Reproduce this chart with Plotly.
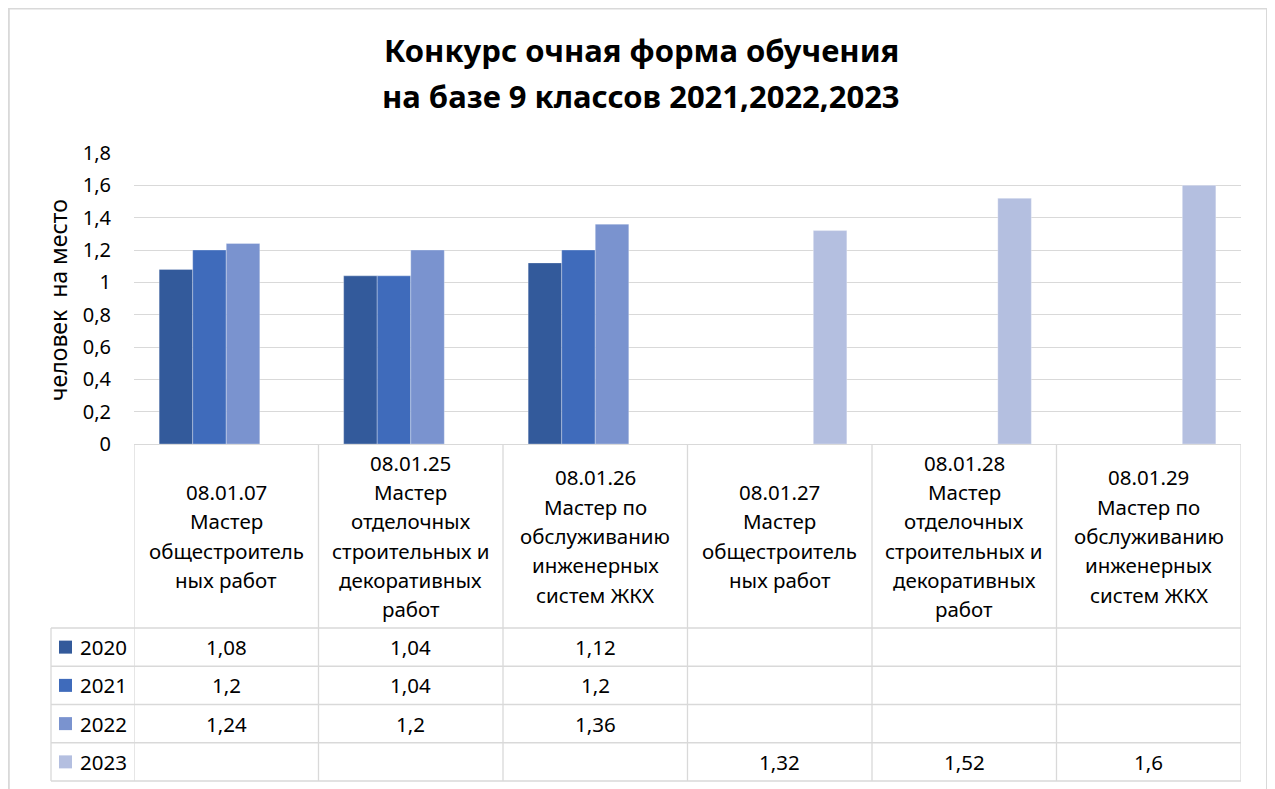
import plotly.graph_objects as go

# ---------------- data ----------------
codes = ["08.01.07", "08.01.25", "08.01.26", "08.01.27", "08.01.28", "08.01.29"]
label_lines = [
    ["08.01.07", "Мастер", "общестроитель", "ных работ"],
    ["08.01.25", "Мастер", "отделочных", "строительных и", "декоративных", "работ"],
    ["08.01.26", "Мастер по", "обслуживанию", "инженерных", "систем ЖКХ"],
    ["08.01.27", "Мастер", "общестроитель", "ных работ"],
    ["08.01.28", "Мастер", "отделочных", "строительных и", "декоративных", "работ"],
    ["08.01.29", "Мастер по", "обслуживанию", "инженерных", "систем ЖКХ"],
]
years = ["2020", "2021", "2022", "2023"]
v2020 = [1.08, 1.04, 1.12, None, None, None]
v2021 = [1.2, 1.04, 1.2, None, None, None]
v2022 = [1.24, 1.2, 1.36, None, None, None]
v2023 = [None, None, None, 1.32, 1.52, 1.6]
series = [v2020, v2021, v2022, v2023]
colors = ["#335a9b", "#3f6bbb", "#7a93cf", "#b4bfe0"]
title_lines = ["Конкурс очная форма обучения", "на базе 9 классов 2021,2022,2023"]
y_title = "человек  на место"

# ---------------- geometry (target picture pixels) ----------------
OFFX = 8                     # browser body margin (x)
SY, CY = 0.98, 10.8          # observed vertical mapping picture = SY*fig + CY


def figy(p):
    return (p - CY) / SY


W = 1275 - 2 * OFFX
H = 798
PL, PR, PT, PB = 134, 1241, 153, 781
ZERO_Y = 444
HDR_BOTTOM = 628
ROW_H = (PB - HDR_BOTTOM) / 4
LEG_L = 51
LINE_H = 29.3
FONT = "Noto Sans"
GRID = "#d9d9d9"
TXT = "#000000"


def fx(px):
    return (px - PL) / (PR - PL)


def fy(py):
    return (PB - py) / (PB - PT)


fig = go.Figure()
for name, vals, col in zip(years, series, colors):
    fig.add_trace(go.Bar(
        x=codes, y=vals, name=name,
        marker=dict(color=col, line=dict(color="rgba(255,255,255,0.5)", width=0.6)),
        showlegend=False,
    ))

shapes = []
annotations = []

# outer chart border
shapes.append(dict(type="rect", xref="paper", yref="paper",
                   x0=fx(OFFX + 0.8), x1=fx(1267), y0=fy(840), y1=fy(8.5),
                   line=dict(color=GRID, width=2), layer="below"))

# table: vertical lines between categories
for i in range(len(codes) + 1):
    shapes.append(dict(type="line", xref="x", yref="paper",
                       x0=i - 0.5, x1=i - 0.5, y0=fy(ZERO_Y), y1=fy(PB),
                       line=dict(color=GRID, width=1.3)))
# legend column left border
shapes.append(dict(type="line", xref="paper", yref="paper",
                   x0=fx(LEG_L), x1=fx(LEG_L), y0=fy(HDR_BOTTOM), y1=fy(PB),
                   line=dict(color=GRID, width=1.3)))
# horizontal row lines
for r in range(len(years) + 1):
    yy = HDR_BOTTOM + r * ROW_H
    shapes.append(dict(type="line", xref="paper", yref="paper",
                       x0=fx(LEG_L), x1=1, y0=fy(yy), y1=fy(yy),
                       line=dict(color=GRID, width=1.3)))

# category labels
hdr_mid = (ZERO_Y + HDR_BOTTOM) / 2
for code, lines in zip(codes, label_lines):
    n = len(lines)
    for k, txt in enumerate(lines):
        yy = hdr_mid + (k - (n - 1) / 2) * LINE_H
        annotations.append(dict(x=code, xref="x", y=fy(yy), yref="paper",
                                text=txt, showarrow=False, xanchor="center",
                                yanchor="middle", font=dict(size=20.5, family=FONT, color=TXT)))

# table rows
for r, (name, vals, col) in enumerate(zip(years, series, colors)):
    yc = HDR_BOTTOM + (r + 0.5) * ROW_H
    shapes.append(dict(type="rect", xref="paper", yref="paper",
                       x0=fx(59), x1=fx(72), y0=fy(yc + 6.5), y1=fy(yc - 6.5),
                       fillcolor=col, line=dict(width=0)))
    annotations.append(dict(x=fx(78), xref="paper", y=fy(yc), yref="paper",
                            text=name, showarrow=False, xanchor="left", yanchor="middle",
                            font=dict(size=20.5, family=FONT, color=TXT)))
    for code, v in zip(codes, vals):
        if v is None:
            continue
        annotations.append(dict(x=code, xref="x", y=fy(yc), yref="paper",
                                text=("%g" % v).replace(".", ","), showarrow=False,
                                xanchor="center", yanchor="middle",
                                font=dict(size=20.5, family=FONT, color=TXT)))

# y-axis title
annotations.append(dict(x=fx(58), xref="paper", y=fy(300), yref="paper",
                        text=y_title, textangle=-90, showarrow=False,
                        xanchor="center", yanchor="middle",
                        font=dict(size=23, family=FONT, color=TXT)))

# title
for txt, yy in zip(title_lines, [50, 96]):
    annotations.append(dict(x=fx(641), xref="paper", y=fy(yy), yref="paper",
                            text="<b>%s</b>" % txt, showarrow=False,
                            xanchor="center", yanchor="middle",
                            font=dict(size=31, family=FONT, color=TXT)))

fig.update_layout(
    width=W, height=H,
    margin=dict(l=PL - OFFX, r=W - (PR - OFFX), t=figy(PT), b=H - figy(PB)),
    paper_bgcolor="white", plot_bgcolor="white",
    barmode="group", bargap=1.5 / 5.5, bargroupgap=0,
    separators=", ",
    font=dict(family=FONT, color=TXT),
    shapes=shapes, annotations=annotations,
    xaxis=dict(range=[-0.5, len(codes) - 0.5], showticklabels=False,
               showgrid=False, zeroline=False, showline=False, fixedrange=True),
    yaxis=dict(domain=[fy(ZERO_Y), 1], range=[0, 1.8], dtick=0.2, tick0=0,
               showgrid=True, gridcolor=GRID, gridwidth=1.3,
               zeroline=True, zerolinecolor=GRID, zerolinewidth=1.3,
               showline=False, ticks="", ticklabelstandoff=22,
               tickfont=dict(size=20, family=FONT, color=TXT)),
)

fig.write_html("out.html")
